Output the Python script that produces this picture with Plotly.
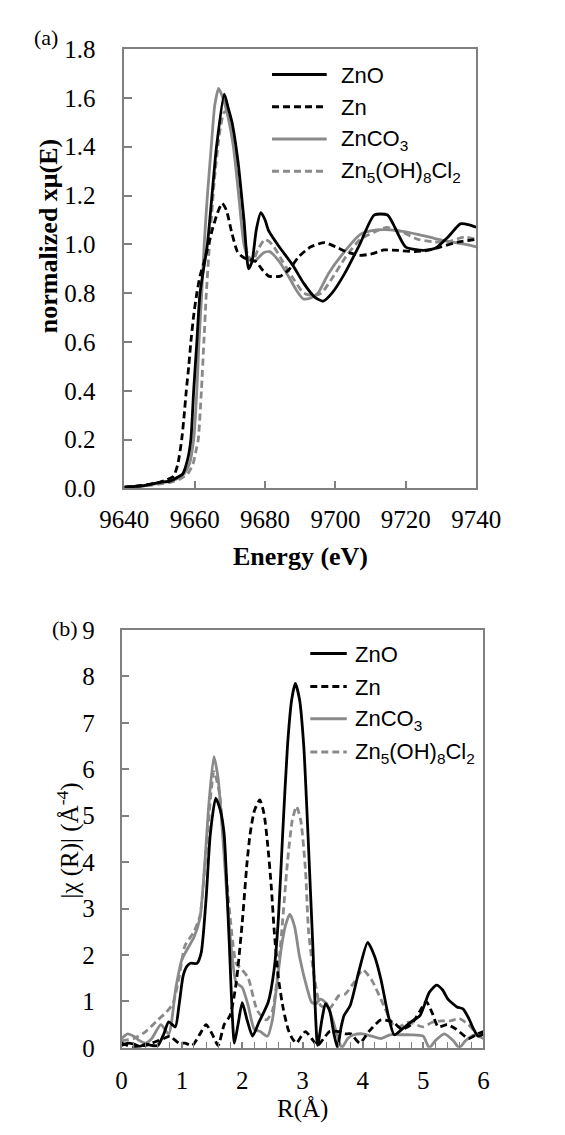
import plotly.graph_objects as go

# ---------------- data: (a) XANES ----------------
E_zno = [9640, 9645, 9650, 9653, 9655, 9656.6, 9658, 9658.9, 9659.7, 9660.6, 9661.5, 9663.6, 9666.2,
         9668.4, 9669.5, 9670.6, 9672.3, 9674, 9675.3, 9676.3, 9677.5, 9678.8, 9680, 9681, 9684, 9687.8,
         9691, 9694, 9696.5, 9699, 9702.6, 9706.9, 9711, 9714.8, 9719.9, 9725, 9728.5, 9732, 9735.5, 9738, 9740]
mu_zno = [0.005, 0.01, 0.025, 0.03, 0.045, 0.06, 0.12, 0.2, 0.4, 0.6, 0.8, 1.0, 1.4,
          1.615, 1.56, 1.5, 1.34, 1.1, 0.9, 0.93, 1.06, 1.13, 1.1, 1.056, 0.99, 0.916,
          0.84, 0.785, 0.767, 0.8, 0.88, 1.0, 1.12, 1.12, 0.99, 0.975, 0.985, 1.03, 1.084, 1.08, 1.07]

E_zn = [9640, 9645, 9650, 9652, 9654, 9655.2, 9656.3, 9657, 9657.6, 9658.3, 9658.9, 9659.8, 9660.6, 9661.5,
        9662.5, 9663.6, 9665, 9666.5, 9667.8, 9669, 9670.5, 9672.2, 9674, 9677.4, 9679, 9681, 9684.4, 9687,
        9689.6, 9693, 9696.9, 9700, 9703.4, 9706.7, 9710, 9713.8, 9718, 9722.5, 9726, 9730, 9735, 9740]
mu_zn = [0.005, 0.012, 0.025, 0.035, 0.05, 0.1, 0.2, 0.3, 0.4, 0.5, 0.6, 0.72, 0.8, 0.87,
         0.92, 0.98, 1.06, 1.13, 1.168, 1.14, 1.05, 0.968, 0.945, 0.93, 0.9, 0.87, 0.87, 0.9,
         0.95, 0.99, 1.007, 0.99, 0.968, 0.955, 0.96, 0.977, 0.975, 0.97, 0.975, 0.99, 1.01, 1.02]

E_znco3 = [9640, 9645, 9650, 9653, 9655, 9657, 9658.5, 9659.7, 9660.6, 9661.2, 9662, 9662.7, 9663.6, 9664.7,
           9665.7, 9666.8, 9668, 9669.5, 9671, 9672.5, 9674, 9675.5, 9677, 9679.5, 9681.3, 9684, 9687, 9689,
           9690.9, 9693, 9695, 9698, 9702, 9707, 9710, 9713.8, 9718, 9723.6, 9728, 9733, 9737, 9740]
mu_znco3 = [0.005, 0.01, 0.022, 0.03, 0.04, 0.06, 0.1, 0.2, 0.4, 0.6, 0.8, 1.0, 1.2, 1.4,
            1.57, 1.639, 1.6, 1.52, 1.4, 1.2, 1.0, 0.935, 0.93, 0.965, 0.97, 0.93, 0.86, 0.81,
            0.776, 0.78, 0.8, 0.88, 0.96, 1.04, 1.055, 1.06, 1.055, 1.04, 1.025, 1.01, 1.0, 0.99]

E_zn5 = [9640, 9645, 9650, 9653, 9656, 9658, 9659.5, 9660.3, 9661, 9661.9, 9662.6, 9663.3, 9664.2, 9665.5,
         9667, 9668.3, 9669.5, 9670.6, 9672, 9673.5, 9675, 9676.5, 9678, 9680, 9682, 9685, 9688, 9691,
         9693.9, 9696, 9699, 9703, 9707, 9711, 9714.6, 9719, 9723.6, 9728, 9732, 9736.5, 9740]
mu_zn5 = [0.003, 0.008, 0.018, 0.025, 0.04, 0.06, 0.1, 0.15, 0.2, 0.4, 0.6, 0.8, 1.0, 1.25,
          1.45, 1.54, 1.548, 1.48, 1.3, 1.1, 0.96, 0.93, 0.98, 1.02, 1.0, 0.93, 0.86, 0.8,
          0.79, 0.8, 0.86, 0.95, 1.02, 1.05, 1.07, 1.05, 1.02, 1.01, 1.01, 1.03, 1.02]

# ---------------- data: (b) FT magnitude ----------------
R_zno = [0, 0.1, 0.2, 0.3, 0.4, 0.5, 0.6, 0.7, 0.78, 0.89, 0.95, 1.02, 1.08, 1.14, 1.25, 1.32, 1.4, 1.47,
         1.56, 1.64, 1.7, 1.78, 1.87, 1.93, 2.0, 2.08, 2.17, 2.28, 2.43, 2.53, 2.6, 2.67, 2.75, 2.82, 2.88,
         2.95, 3.02, 3.09, 3.17, 3.25, 3.32, 3.38, 3.45, 3.52, 3.58, 3.64, 3.69, 3.79, 3.94, 4.08, 4.2, 4.3,
         4.42, 4.52, 4.65, 4.8, 4.95, 5.1, 5.22, 5.32, 5.41, 5.56, 5.66, 5.75, 5.83, 5.91, 6.0]
ft_zno = [0.05, 0.1, 0.08, 0.03, 0.08, 0.05, 0.05, 0.3, 0.56, 0.45, 0.9, 1.55, 1.75, 1.82, 1.82, 2.05, 3.2, 4.6,
          5.38, 5.1, 4.6, 2.4, 0.1, 0.5, 0.97, 0.6, 0.25, 0.56, 0.98, 1.7, 2.8, 4.6, 6.5, 7.5, 7.85,
          7.5, 6.5, 4.6, 2.2, 0.05, 0.6, 0.95, 0.8, 0.3, 0.0, 0.45, 0.7, 0.91, 1.68, 2.27, 1.95, 1.47,
          0.7, 0.28, 0.4, 0.56, 0.7, 1.19, 1.35, 1.25, 1.05, 0.88, 0.84, 0.65, 0.42, 0.25, 0.3]

R_zn = [0, 0.1, 0.2, 0.3, 0.4, 0.5, 0.6, 0.7, 0.8, 0.95, 1.05, 1.17, 1.3, 1.4, 1.5, 1.6, 1.7, 1.8, 1.9, 2.0,
        2.08, 2.13, 2.2, 2.29, 2.36, 2.42, 2.48, 2.53, 2.6, 2.68, 2.76, 2.83, 2.9, 2.98, 3.05, 3.15, 3.25,
        3.35, 3.45, 3.6, 3.7, 3.8, 3.95, 4.1, 4.3, 4.5, 4.65, 4.8, 4.95, 5.05, 5.15, 5.25, 5.4, 5.55, 5.75,
        5.9, 6.0]
ft_zn = [0.1, 0.05, 0.0, 0.05, 0.05, 0.1, 0.15, 0.2, 0.25, 0.1, 0.1, 0.05, 0.3, 0.5, 0.3, 0.05, 0.5, 0.7, 1.4, 2.7,
         4.0, 4.6, 5.1, 5.34, 5.05, 4.4, 3.5, 2.52, 1.5, 0.84, 0.4, 0.2, 0.1, 0.25, 0.35, 0.2, 0.05,
         0.2, 0.35, 0.35, 0.3, 0.3, 0.1, 0.35, 0.6, 0.55, 0.4, 0.5, 0.8, 1.0, 0.75, 0.45, 0.5, 0.4, 0.2,
         0.3, 0.35]

R_znco3 = [0, 0.1, 0.2, 0.3, 0.4, 0.5, 0.65, 0.78, 0.9, 1.0, 1.1, 1.2, 1.3, 1.38, 1.45, 1.53, 1.6, 1.68, 1.75,
           1.83, 1.9, 2.0, 2.1, 2.2, 2.3, 2.42, 2.5, 2.55, 2.65, 2.72, 2.79, 2.87, 2.95, 3.08, 3.15, 3.22,
           3.3, 3.4, 3.5, 3.58, 3.65, 3.75, 3.85, 4.0, 4.15, 4.3, 4.45, 4.6, 4.8, 5.0, 5.1, 5.2, 5.35, 5.5,
           5.6, 5.7, 5.85, 6.0]
ft_znco3 = [0.2, 0.3, 0.25, 0.15, 0.1, 0.2, 0.5, 0.3, 1.3, 1.9, 2.15, 2.38, 2.8, 4.0, 5.3, 6.27, 5.8, 4.5, 3.2,
            2.0, 1.4, 1.3, 0.9, 0.4, 0.35, 0.25, 0.6, 1.1, 2.17, 2.65, 2.88, 2.6, 1.96, 1.26, 0.98, 0.95,
            1.05, 0.95, 0.6, 0.25, 0.0, 0.2, 0.28, 0.3, 0.25, 0.2, 0.28, 0.28, 0.28, 0.25, 0.0, 0.15, 0.3, 0.15,
            0.0, 0.15, 0.28, 0.2]

R_zn5 = [0, 0.2, 0.4, 0.6, 0.73, 0.85, 0.95, 1.05, 1.2, 1.3, 1.4, 1.53, 1.62, 1.7, 1.8, 1.9, 2.0, 2.1, 2.25,
         2.4, 2.5, 2.62, 2.75, 2.83, 2.9, 2.97, 3.05, 3.1, 3.2, 3.3, 3.45, 3.6, 3.7, 3.85, 4.0, 4.15, 4.35,
         4.5, 4.6, 4.75, 5.0, 5.15, 5.3, 5.45, 5.6, 5.75, 5.9, 6.0]
ft_zn5 = [0.15, 0.2, 0.35, 0.6, 0.75, 0.95, 1.5, 2.2, 2.5, 2.85, 4.2, 5.95, 5.5, 4.3, 2.8, 1.82, 1.68, 1.5, 0.8,
          0.6, 0.8, 2.0, 4.0, 4.9, 5.2, 4.9, 3.8, 2.5, 1.47, 0.91, 0.85, 1.12, 1.15, 1.4, 1.68, 1.45, 0.9,
          0.5, 0.45, 0.55, 0.45, 0.55, 0.58, 0.58, 0.63, 0.5, 0.3, 0.35]

names = ["ZnO", "Zn", "ZnCO<sub>3</sub>", "Zn<sub>5</sub>(OH)<sub>8</sub>Cl<sub>2</sub>"]
e_ticks = [9640, 9660, 9680, 9700, 9720, 9740]
r_ticks = [0, 1, 2, 3, 4, 5, 6]

# ---------------- styling ----------------
W, H = 565, 1135
BLACK = "#000000"
GRAY = "#8a8a8a"
AXC = "#808080"
SERIF = "Liberation Serif, Times New Roman, serif"
SANS = "Liberation Sans, Arial, sans-serif"
DASH = "7px,4px"
styles = [(BLACK, "solid"), (BLACK, DASH), (GRAY, "solid"), (GRAY, DASH)]


def px(x):
    return x / W


def py(y):
    return 1 - y / H


fig = go.Figure()

top_sets = [(E_zno, mu_zno), (E_zn, mu_zn), (E_znco3, mu_znco3), (E_zn5, mu_zn5)]
bot_sets = [(R_zno, ft_zno), (R_zn, ft_zn), (R_znco3, ft_znco3), (R_zn5, ft_zn5)]
order = [2, 3, 1, 0]  # draw black solid last (on top)
for i in order:
    c, d = styles[i]
    x, y = top_sets[i]
    fig.add_trace(go.Scatter(x=x, y=y, mode="lines", name=names[i], showlegend=False,
                             line=dict(color=c, dash=d, width=2.8, shape="spline", smoothing=0.6),
                             xaxis="x", yaxis="y"))
for i in order:
    c, d = styles[i]
    x, y = bot_sets[i]
    fig.add_trace(go.Scatter(x=x, y=y, mode="lines", name=names[i], showlegend=False,
                             line=dict(color=c, dash=d, width=2.8, shape="spline", smoothing=0.6),
                             xaxis="x2", yaxis="y2"))

axis_common = dict(showline=True, linecolor=AXC, linewidth=1.5, mirror=True, showgrid=False,
                   zeroline=False, ticks="inside", tickcolor=AXC, tickwidth=1.5,
                   tickfont=dict(family=SERIF, size=25, color=BLACK))

fig.update_layout(
    width=W, height=H, margin=dict(l=0, r=0, t=0, b=0),
    font=dict(family=SERIF, size=25, color=BLACK),
    paper_bgcolor="white", plot_bgcolor="white", showlegend=False,
    xaxis=dict(domain=[px(109), px(495)], range=[9640, 9740], tickvals=e_ticks, ticklen=8,
               anchor="y", ticklabelstandoff=8, **axis_common),
    yaxis=dict(domain=[py(487), py(37)], range=[0, 1.8], dtick=0.2, tick0=0, tickformat=".1f",
               ticklen=8, anchor="x", ticklabelstandoff=22, **axis_common),
    xaxis2=dict(domain=[px(106), px(503)], range=[0, 6], tickvals=r_ticks, ticklen=6,
                minor=dict(dtick=0.2, ticks="inside", ticklen=6, tickcolor=AXC, tickwidth=1),
                anchor="y2", ticklabelstandoff=9, **axis_common),
    yaxis2=dict(domain=[py(1060), py(632)], range=[0, 9], dtick=1, tick0=0, ticklen=8,
                anchor="x2", ticklabelstandoff=20, **axis_common),
)

ann = []
# axis titles and panel labels
ann.append(dict(x=px(302), y=py(557), text="<b>Energy (eV)</b>", textangle=0,
                font=dict(family=SERIF, size=26, color=BLACK)))
ann.append(dict(x=px(26), y=py(228), text="<b>normalized xμ(E)</b>", textangle=-90,
                font=dict(family=SERIF, size=26, color=BLACK)))
ann.append(dict(x=px(304), y=py(1123), text="R(Å)",
                font=dict(family=SERIF, size=25, color=BLACK)))
ann.append(dict(x=px(48), y=py(848), text="|χ (R)| (Å<sup>-4</sup>)", textangle=-90,
                font=dict(family=SERIF, size=25, color=BLACK)))
ann.append(dict(x=px(23), y=py(25), text="(a)", font=dict(family=SERIF, size=22, color=BLACK)))
ann.append(dict(x=px(44), y=py(630), text="(b)", font=dict(family=SERIF, size=22, color=BLACK)))

shapes = []
# legends
leg_top = dict(x0=271, x1=331, tx=345, rows=[63, 96, 129, 162])
leg_bot = dict(x0=313, x1=353, tx=360, rows=[656, 690, 723, 757])
for leg in (leg_top, leg_bot):
    for i, yy in enumerate(leg["rows"]):
        c, d = styles[i]
        shapes.append(dict(type="line", xref="paper", yref="paper",
                           x0=px(leg["x0"]), x1=px(leg["x1"]), y0=py(yy), y1=py(yy),
                           line=dict(color=c, width=3, dash=d)))
        ann.append(dict(x=px(leg["tx"]), y=py(yy + 1), text=names[i], xanchor="left", yanchor="middle",
                        font=dict(family=SANS, size=22, color=BLACK)))

for a in ann:
    a.setdefault("xref", "paper")
    a.setdefault("yref", "paper")
    a.setdefault("showarrow", False)
    a.setdefault("xanchor", "center")
    a.setdefault("yanchor", "middle")

fig.update_layout(annotations=ann, shapes=shapes)
fig.write_html("out.html")
